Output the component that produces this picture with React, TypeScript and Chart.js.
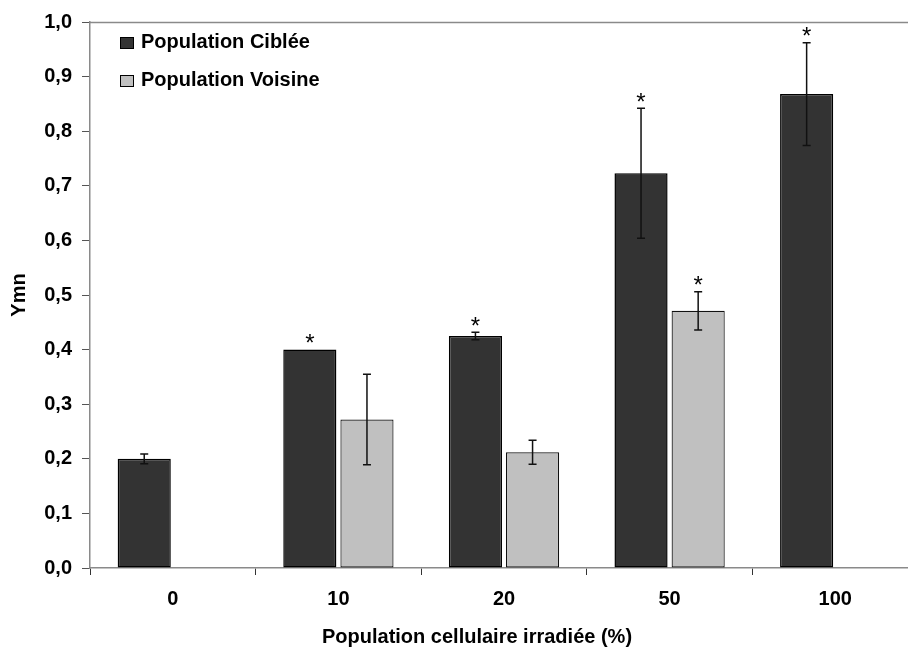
import React, { useEffect, useRef } from "react";
import { Chart, registerables } from "chart.js";

Chart.register(...registerables);

const categories = ["0", "10", "20", "50", "100"];
const cibleeValues = [0.2, 0.4, 0.425, 0.723, 0.868];
const cibleeErrors = [0.009, 0, 0.007, 0.119, 0.094];
const cibleeStars = [false, true, true, true, true];
const voisineValues = [null, 0.272, 0.212, 0.471, null];
const voisineErrors = [0, 0.083, 0.022, 0.035, 0];
const voisineStars = [false, false, false, true, false];
const seriesLabels = ["Population Ciblée", "Population Voisine"];
const xTitle = "Population cellulaire irradiée (%)";
const yTitle = "Ymn";

const FONT = "'Liberation Sans', Arial, sans-serif";
const DARK = "#333333";
const LIGHT = "#c0c0c0";

const errors = [cibleeErrors, voisineErrors];
const stars = [cibleeStars, voisineStars];

const overlayPlugin = {
  id: "overlay",
  afterDatasetsDraw(chart: any) {
    const ctx = chart.ctx;
    const yScale = chart.scales.y;
    const area = chart.chartArea;
    ctx.save();
    // top border of plot area
    ctx.strokeStyle = "#8a8a8a";
    ctx.lineWidth = 1.5;
    ctx.beginPath();
    ctx.moveTo(area.left, area.top + 0.5);
    ctx.lineTo(area.right, area.top + 0.5);
    ctx.moveTo(area.right, area.top);
    ctx.lineTo(area.right, area.bottom);
    ctx.stroke();

    chart.data.datasets.forEach((ds: any, di: number) => {
      const meta = chart.getDatasetMeta(di);
      meta.data.forEach((bar: any, i: number) => {
        const v = ds.data[i];
        if (v === null || v === undefined) return;
        const e = errors[di][i];
        const x = bar.x;
        let top = yScale.getPixelForValue(v);
        if (e > 0) {
          const yHi = yScale.getPixelForValue(v + e);
          const yLo = yScale.getPixelForValue(v - e);
          ctx.strokeStyle = "#111";
          ctx.lineWidth = 1.5;
          ctx.beginPath();
          ctx.moveTo(x, yHi);
          ctx.lineTo(x, yLo);
          ctx.moveTo(x - 4, yHi);
          ctx.lineTo(x + 4, yHi);
          ctx.moveTo(x - 4, yLo);
          ctx.lineTo(x + 4, yLo);
          ctx.stroke();
          top = yHi;
        }
        if (stars[di][i]) {
          ctx.fillStyle = "#000";
          ctx.font = `24px ${FONT}`;
          ctx.textAlign = "center";
          ctx.textBaseline = "alphabetic";
          ctx.fillText("*", x, top + 1.5);
        }
      });
    });

    // legend
    const rows = [
      { label: seriesLabels[0], color: DARK, y: 37 },
      { label: seriesLabels[1], color: LIGHT, y: 75 },
    ];
    rows.forEach((r) => {
      ctx.fillStyle = r.color;
      ctx.fillRect(120.5, r.y + 0.5, 13, 11);
      ctx.strokeStyle = "#000";
      ctx.lineWidth = 1;
      ctx.strokeRect(120.5, r.y + 0.5, 13, 11);
      ctx.fillStyle = "#000";
      ctx.font = `bold 20px ${FONT}`;
      ctx.textAlign = "left";
      ctx.textBaseline = "alphabetic";
      ctx.fillText(r.label, 141, r.y + 11);
    });

    // x title
    ctx.font = `bold 20px ${FONT}`;
    ctx.textAlign = "center";
    ctx.fillStyle = "#000";
    ctx.fillText(xTitle, 477, 643);
    ctx.restore();
  },
};

export default function App() {
  const ref = useRef<HTMLCanvasElement>(null);
  useEffect(() => {
    if (!ref.current) return;
    Chart.defaults.font.family = FONT;
    const chart = new Chart(ref.current, {
      type: "bar",
      data: {
        labels: categories,
        datasets: [
          {
            label: seriesLabels[0],
            data: cibleeValues,
            backgroundColor: DARK,
            borderColor: "#000",
            borderWidth: 1.5,
            borderSkipped: false,
            categoryPercentage: 0.69,
            barPercentage: 0.93,
          },
          {
            label: seriesLabels[1],
            data: voisineValues as any,
            backgroundColor: LIGHT,
            borderColor: "#111",
            borderWidth: 1.2,
            borderSkipped: false,
            categoryPercentage: 0.69,
            barPercentage: 0.93,
          },
        ],
      },
      options: {
        animation: false,
        responsive: false,
        devicePixelRatio: 1,
        layout: { padding: { top: 21, right: 12, left: 0, bottom: 0 } },
        plugins: {
          legend: { display: false },
          tooltip: { enabled: false },
        },
        scales: {
          x: {
            grid: {
              display: true,
              drawOnChartArea: false,
              drawTicks: true,
              tickLength: 7,
              color: "#333",
              offset: true,
            },
            border: { color: "#8a8a8a", width: 1.5 },
            ticks: {
              color: "#000",
              font: { size: 20, weight: "bold", family: FONT },
              padding: 12,
              maxRotation: 0,
            },
            afterFit: (s: any) => {
              s.height = 80;
            },
          },
          y: {
            min: 0,
            max: 1,
            grid: {
              display: true,
              drawOnChartArea: false,
              drawTicks: true,
              tickLength: 8,
              color: "#555",
            },
            border: { color: "#8a8a8a", width: 1.5 },
            ticks: {
              stepSize: 0.1,
              color: "#000",
              padding: 10,
              font: { size: 20, weight: "bold", family: FONT },
              callback: (v: any) => Number(v).toFixed(1).replace(".", ","),
            },
            title: {
              display: true,
              text: yTitle,
              color: "#000",
              font: { size: 20, weight: "bold", family: FONT },
              padding: { top: 7, bottom: 0 },
            },
            afterFit: (s: any) => {
              s.width = 90;
            },
          },
        },
      },
      plugins: [overlayPlugin],
    });
    return () => chart.destroy();
  }, []);
  return (
    <div
      style={{
        position: "fixed",
        left: 0,
        top: 0,
        width: 908,
        height: 648,
        overflow: "hidden",
        background: "#fff",
      }}
    >
      <canvas ref={ref} width={930} height={648} style={{ width: 930, height: 648, display: "block" }} />
    </div>
  );
}
